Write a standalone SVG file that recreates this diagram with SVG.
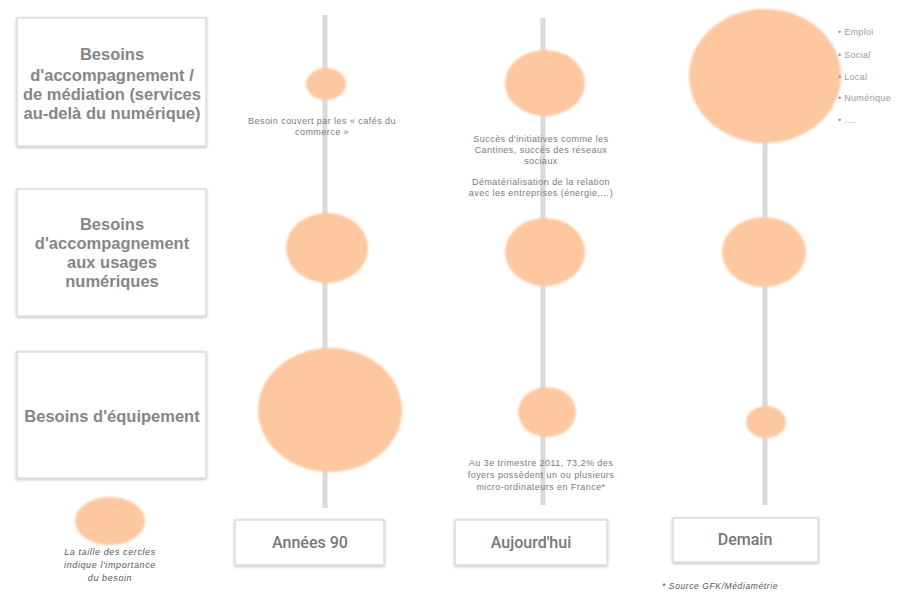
<svg xmlns="http://www.w3.org/2000/svg" width="908" height="592" viewBox="0 0 908 592">
<defs>
<filter id="sh" x="-10%" y="-10%" width="120%" height="120%"><feGaussianBlur in="SourceAlpha" stdDeviation="1.5"/><feOffset dx="0" dy="1"/><feComponentTransfer><feFuncA type="linear" slope="0.25"/></feComponentTransfer><feMerge><feMergeNode/><feMergeNode in="SourceGraphic"/></feMerge></filter>
<filter id="soft"><feGaussianBlur stdDeviation="0.8"/></filter>
</defs>
<style>
.box{fill:#fff;stroke:#dcdcdc;stroke-width:1.5;filter:url(#sh)}
.lbl{font-family:"Liberation Sans",Arial,sans-serif;font-weight:bold;font-size:16.5px;fill:#868686;text-anchor:middle}
.per{font-family:Roboto,"Liberation Sans",sans-serif;font-weight:500;font-size:16px;fill:#777;text-anchor:middle}
.c{fill:#fdc7a0;filter:url(#soft)}
.ln{stroke:#dadada;stroke-width:5;fill:none}
.sm{font-family:"Liberation Sans",Arial,sans-serif;font-size:9px;letter-spacing:0.45px;fill:#7a7a7a;text-anchor:middle}
.li{font-family:"Liberation Sans",Arial,sans-serif;font-size:9px;letter-spacing:0.3px;fill:#999}
.it{font-family:"Liberation Sans",Arial,sans-serif;font-style:italic;font-size:9px;letter-spacing:0.6px;fill:#555;text-anchor:middle}
</style>
<rect width="908" height="592" fill="#fff"/>
<g id="connectors">
<line class="ln" x1="325" y1="15" x2="325" y2="508"/>
<line class="ln" x1="543" y1="18" x2="543" y2="505"/>
<line class="ln" x1="765" y1="18" x2="765" y2="505"/>
</g>
<g id="row-mediation">
<rect class="box" x="17" y="18" width="189" height="128"/>
<text class="lbl" x="112" y="60">Besoins</text>
<text class="lbl" x="112" y="81">d'accompagnement /</text>
<text class="lbl" x="112" y="100">de médiation (services</text>
<text class="lbl" x="112" y="119">au-delà du numérique)</text>
</g>
<g id="row-usages">
<rect class="box" x="17" y="189" width="189" height="127"/>
<text class="lbl" x="112" y="230">Besoins</text>
<text class="lbl" x="112" y="249">d'accompagnement</text>
<text class="lbl" x="112" y="268">aux usages</text>
<text class="lbl" x="112" y="287">numériques</text>
</g>
<g id="row-equipement">
<rect class="box" x="17" y="352" width="189" height="126"/>
<text class="lbl" x="112" y="422">Besoins d'équipement</text>
</g>
<g id="col-90">
<ellipse class="c" cx="326" cy="84" rx="20" ry="16"/>
<ellipse class="c" cx="327" cy="248" rx="41" ry="35"/>
<ellipse class="c" cx="330" cy="410" rx="72" ry="62"/>
<text class="sm" x="322" y="124">Besoin couvert  par les « cafés du</text>
<text class="sm" x="322" y="135">commerce »</text>
<rect class="box" x="235" y="520" width="149" height="45"/>
<text class="per" x="310" y="548">Années 90</text>
</g>
<g id="col-aujourdhui">
<ellipse class="c" cx="545" cy="83" rx="40" ry="33"/>
<ellipse class="c" cx="545" cy="252" rx="40" ry="34"/>
<ellipse class="c" cx="547" cy="412" rx="29" ry="25"/>
<text class="sm" x="541" y="142">Succès d'initiatives comme les</text>
<text class="sm" x="541" y="153">Cantines, succès des réseaux</text>
<text class="sm" x="541" y="164">sociaux</text>
<text class="sm" x="541" y="185">Dématérialisation de la relation</text>
<text class="sm" x="541" y="196">avec les entreprises (énergie,…)</text>
<text class="sm" x="541" y="466">Au 3e trimestre 2011, 73,2% des</text>
<text class="sm" x="541" y="478">foyers possèdent un ou plusieurs</text>
<text class="sm" x="541" y="490">micro-ordinateurs  en France*</text>
<rect class="box" x="455" y="520" width="152" height="45"/>
<text class="per" x="531" y="548">Aujourd'hui</text>
</g>
<g id="col-demain">
<ellipse class="c" cx="765" cy="76" rx="76" ry="67"/>
<ellipse class="c" cx="764" cy="252" rx="42" ry="35"/>
<ellipse class="c" cx="766" cy="422" rx="20" ry="16"/>
<text class="li" x="838" y="35">•  Emploi</text>
<text class="li" x="838" y="58">•  Social</text>
<text class="li" x="838" y="80">•  Local</text>
<text class="li" x="838" y="101">•  Numérique</text>
<text class="li" x="838" y="123">•  ….</text>
<rect class="box" x="673" y="518" width="145" height="44"/>
<text class="per" x="745" y="545">Demain</text>
</g>
<g id="legend">
<ellipse class="c" cx="110" cy="521" rx="35" ry="24"/>
<text class="it" x="110" y="555">La taille des cercles</text>
<text class="it" x="110" y="568">indique  l'importance</text>
<text class="it" x="110" y="581">du besoin</text>
</g>
<g id="source">
<text class="it" x="662" y="589" style="text-anchor:start;font-size:8.5px">* Source  GFK/Médiamétrie</text>
</g>
</svg>
